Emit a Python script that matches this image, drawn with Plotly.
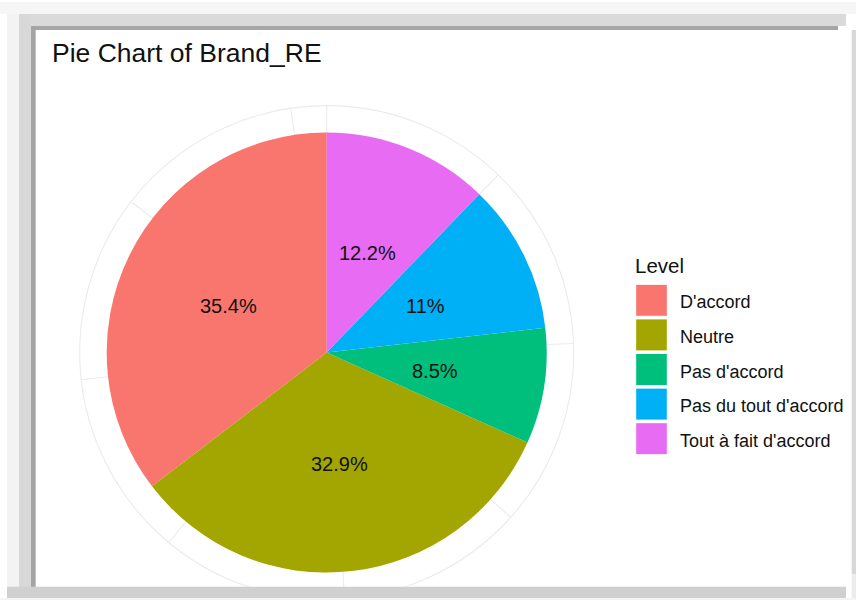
import math
import plotly.graph_objects as go

# Data
levels = ["D'accord", "Neutre", "Pas d'accord", "Pas du tout d'accord", "Tout à fait d'accord"]
shares = [35.4, 32.9, 8.5, 11.0, 12.2]
share_labels = ["35.4%", "32.9%", "8.5%", "11%", "12.2%"]
colors = ["#F8766D", "#A3A500", "#00BF7D", "#00B0F6", "#E76BF3"]
title_text = "Pie Chart of Brand_RE"
legend_title = "Level"

# Geometry (pixels)
W, H = 856, 600
CX, CY, R = 326.7, 352.6, 220.0
R_OUTER = 247.0
GRID_STEP_DEG = 43.95
FONT = "Arial, Liberation Sans, sans-serif"


def px(x):
    return x / W


def py(y):
    return 1 - y / H


total = sum(shares)
# counterclockwise pie whose first slice begins at 12 o'clock
first_angle = 360.0 * shares[0] / total

fig = go.Figure()

fig.add_trace(go.Pie(
    labels=levels,
    values=shares,
    sort=False,
    direction="counterclockwise",
    rotation=-first_angle,
    textinfo="none",
    hoverinfo="label+percent",
    marker=dict(colors=colors, line=dict(width=0)),
    domain=dict(x=[px(CX - R), px(CX + R)], y=[py(CY + R), py(CY - R)]),
    showlegend=False,
))

shapes = []

# white panel
shapes.append(dict(type="rect", xref="paper", yref="paper", layer="below",
                   x0=px(35.7), x1=px(851.7), y0=py(586.7), y1=py(30),
                   fillcolor="white", line=dict(width=0)))

# polar grid: outer circle and theta break lines
grid_col = "#ebebeb"
shapes.append(dict(type="circle", xref="paper", yref="paper", layer="below",
                   x0=px(CX - R_OUTER), x1=px(CX + R_OUTER),
                   y0=py(CY + R_OUTER), y1=py(CY - R_OUTER),
                   line=dict(color=grid_col, width=1.1)))
n_breaks = int(360 // GRID_STEP_DEG) + 1
for k in range(n_breaks):
    a = math.radians(k * GRID_STEP_DEG)
    shapes.append(dict(type="line", xref="paper", yref="paper", layer="below",
                       x0=px(CX), y0=py(CY),
                       x1=px(CX + R_OUTER * math.sin(a)), y1=py(CY - R_OUTER * math.cos(a)),
                       line=dict(color=grid_col, width=1.1)))

# frame shadow around the panel
frame = [
    (0, 2, 856, 14, "#f6f6f6"),
    (7, 14, 846, 26, "#dadada"),
    (31, 26, 838, 30, "#a6a6a6"),
    (7, 14, 19, 598, "#f3f3f3"),
    (19, 14, 31, 587, "#d8d8d8"),
    (31, 26, 35.7, 587, "#a5a5a5"),
    (0, 598, 856, 600, "#f4f4f4"),
    (7, 586.7, 846, 598, "#d0d0d0"),
    (851.7, 30, 856, 574, "#d8d8d8"),
    (851.7, 574, 856, 598, "#ececec"),
]
for x0, y0, x1, y1, c in frame:
    shapes.append(dict(type="rect", xref="paper", yref="paper", layer="below",
                       x0=px(x0), x1=px(x1), y0=py(y1), y1=py(y0),
                       fillcolor=c, line=dict(width=0)))

annotations = []

# slice labels at half radius, mid-angle of each slice (running counterclockwise from 12 o'clock)
cum = 0.0
for v, lab in zip(shares, share_labels):
    mid = (cum + v / 2) / total * 2 * math.pi
    cum += v
    x = CX - 0.5 * R * math.sin(mid)
    y = CY - 0.5 * R * math.cos(mid)
    annotations.append(dict(x=px(x), y=py(y + 2), xref="paper", yref="paper",
                            text=lab, showarrow=False, xanchor="center", yanchor="middle",
                            font=dict(family=FONT, size=20, color="#111111")))

# title
annotations.append(dict(x=px(50), y=py(52.5), xref="paper", yref="paper",
                        text=title_text, showarrow=False, xanchor="left", yanchor="middle",
                        font=dict(family=FONT, size=26.5, color="#111111")))

# legend
annotations.append(dict(x=px(633), y=py(265), xref="paper", yref="paper",
                        text=legend_title, showarrow=False, xanchor="left", yanchor="middle",
                        font=dict(family=FONT, size=20.5, color="#111111")))
KEY_X0, KEY_X1, KEY_TOP, KEY_SIZE, KEY_STEP = 635.7, 667.3, 284.3, 32.0, 34.6
for i, (lev, col) in enumerate(zip(levels, colors)):
    top = KEY_TOP + i * KEY_STEP
    shapes.append(dict(type="rect", xref="paper", yref="paper", layer="above",
                       x0=px(KEY_X0), x1=px(KEY_X1), y0=py(top + KEY_SIZE), y1=py(top),
                       fillcolor=col, line=dict(color="white", width=1)))
    annotations.append(dict(x=px(678), y=py(top + KEY_SIZE / 2 + 2), xref="paper", yref="paper",
                            text=lev, showarrow=False, xanchor="left", yanchor="middle",
                            font=dict(family=FONT, size=18, color="#111111")))

fig.update_layout(
    width=W, height=H,
    margin=dict(l=0, r=0, t=0, b=0),
    paper_bgcolor="white",
    plot_bgcolor="white",
    shapes=shapes,
    annotations=annotations,
    showlegend=False,
)

fig.write_html("out.html")
